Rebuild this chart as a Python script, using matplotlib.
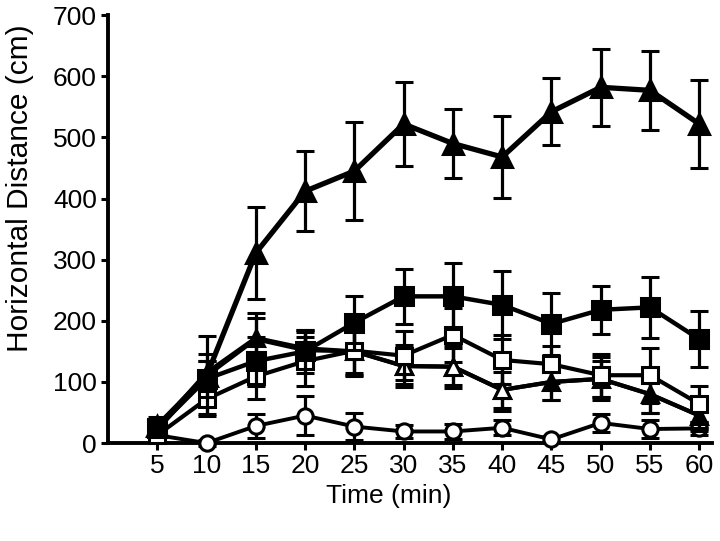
import matplotlib.pyplot as plt
import numpy as np

plt.rcParams['font.family'] = ['Liberation Sans', 'DejaVu Sans']

minutes = [5, 10, 15, 20, 25, 30, 35, 40, 45, 50, 55, 60]

# big filled triangle
tri_big = [28, 110, 311, 412, 445, 522, 490, 468, 542, 582, 577, 522]
tri_big_err = [15, 65, 75, 65, 80, 68, 56, 67, 55, 63, 65, 72]

# filled square
sq_fill = [25, 105, 134, 150, 197, 240, 240, 226, 195, 218, 222, 170]
sq_fill_err = [10, 30, 40, 35, 44, 45, 54, 55, 51, 39, 50, 46]

# open square
sq_open = [13, 72, 109, 134, 151, 143, 177, 136, 129, 111, 111, 64]
sq_open_err = [8, 25, 37, 40, 40, 40, 44, 40, 30, 35, 45, 30]

# small filled triangle
tri_fill = [25, 115, 172, 155, 150, 126, 125, 87, 100, 105, 80, 45]
tri_fill_err = [10, 30, 40, 30, 40, 35, 35, 30, 30, 35, 30, 20]

# open triangle
tri_open = [22, 110, 170, 152, 150, 126, 125, 87, 100, 105, 80, 45]
tri_open_err = [8, 25, 35, 30, 35, 30, 30, 35, 30, 30, 30, 25]

# open circle
circ = [13, 0, 28, 45, 27, 19, 19, 25, 6, 33, 23, 24]
circ_err = [5, 5, 20, 32, 22, 10, 12, 12, 5, 15, 15, 10]


def draw(ax, y, err, marker, face, ms, lw, z, markevery=None):
    ax.errorbar(minutes, y, yerr=err, color='black', marker=marker,
                markerfacecolor=face, markeredgecolor='black',
                markeredgewidth=2.2, markersize=ms, linewidth=lw,
                elinewidth=2.3, capsize=6.5, capthick=3, zorder=z,
                markevery=markevery, clip_on=False)


def main():
    fig = plt.figure(figsize=(7.2, 5.41), dpi=100)
    ax = fig.add_axes([0.15, 0.181, 0.839, 0.791])

    draw(ax, circ, circ_err, 'o', 'white', 11, 2.8, 3)
    draw(ax, tri_fill, tri_fill_err, '^', 'black', 12, 3.0, 4)
    draw(ax, tri_open, tri_open_err, '^', 'white', 12, 3.0, 5, markevery=[5, 6, 7])
    draw(ax, sq_open, sq_open_err, 's', 'white', 11, 3.0, 6)
    draw(ax, sq_fill, sq_fill_err, 's', 'black', 12.5, 3.2, 7)
    draw(ax, tri_big, tri_big_err, '^', 'black', 15, 3.8, 8)

    ax.set_xlim(0, 61.3)
    ax.set_ylim(0, 700)
    ax.set_xticks(minutes)
    ax.set_yticks(np.arange(0, 701, 100))

    ax.spines['top'].set_visible(False)
    ax.spines['right'].set_visible(False)
    for s in ('left', 'bottom'):
        ax.spines[s].set_linewidth(2.8)
    ax.tick_params(direction='out', length=5, width=2.2, labelsize=19, pad=3)

    ax.set_xlabel('Time (min)', fontsize=19)
    ax.xaxis.set_label_coords(0.465, -0.095)
    ax.set_ylabel('Horizontal Distance (cm)', fontsize=21.5)
    ax.yaxis.set_label_coords(-0.122, 0.595)

    fig.savefig('out.png', dpi=100)


if __name__ == '__main__':
    main()
